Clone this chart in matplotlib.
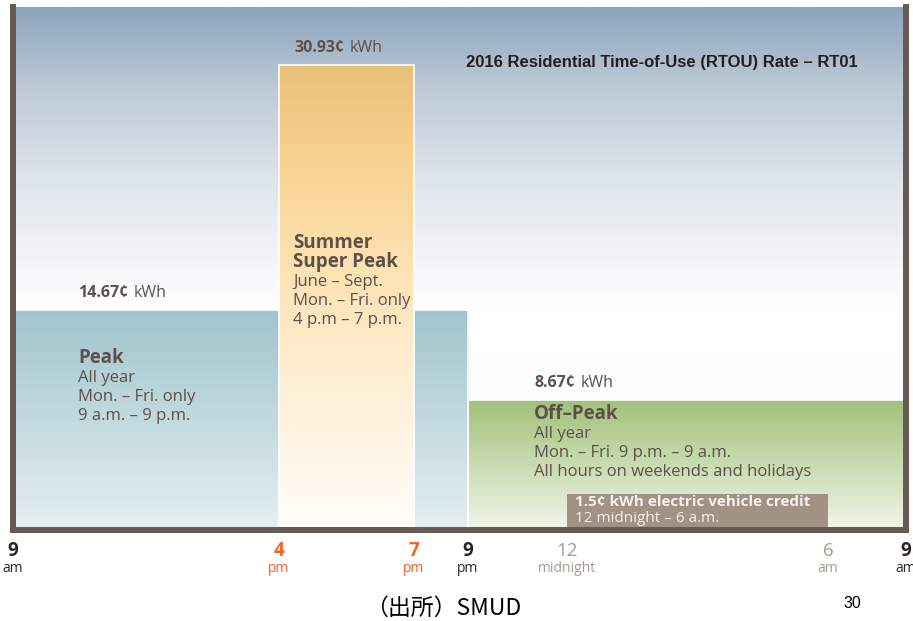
import numpy as np
import matplotlib
matplotlib.use("Agg")
import matplotlib.pyplot as plt
from matplotlib.colors import LinearSegmentedColormap
from matplotlib.patches import Rectangle
from matplotlib.offsetbox import TextArea, HPacker, AnnotationBbox

# rate periods (hours counted from midnight, next morning > 24), cents per kWh
period_names = ["Peak", "Summer\nSuper Peak", "Off\u2013Peak"]
period_start = [9, 16, 21]
period_end = [21, 19, 33]
period_rate = [14.67, 30.93, 8.67]
period_notes = [
    ["All year", "Mon. \u2013 Fri. only", "9 a.m. \u2013 9 p.m."],
    ["June \u2013 Sept.", "Mon. \u2013 Fri. only", "4 p.m \u2013 7 p.m."],
    ["All year", "Mon. \u2013 Fri. 9 p.m. \u2013 9 a.m.", "All hours on weekends and holidays"],
]

ev_start, ev_end = 24, 30
ev_credit = 1.5

tick_hours = [9, 16, 19, 21, 24, 30, 33]
tick_nums = ["9", "4", "7", "9", "12", "6", "9"]
tick_subs = ["am", "pm", "pm", "pm", "midnight", "am", "am"]

# schematic (not to scale) horizontal placement of the hour marks, pixels from left edge
mark_px = [0, 266, 401, 455, 554, 815, 893]

W, H = 913, 621
TXT = "#5c504b"
BORDER = "#675a55"
FONT = ["Open Sans", "DejaVu Sans"]


def fx(px):
    return px / W


def fy(py):
    return 1 - py / H


def fwd(h):
    return np.interp(h, tick_hours, mark_px)


def inv(p):
    return np.interp(p, mark_px, tick_hours)


def gradient(ax, patch, stops, top, z):
    cmap = LinearSegmentedColormap.from_list("g", stops)
    img = ax.imshow(np.linspace(0, 1, 256).reshape(-1, 1), cmap=cmap, origin="lower",
                    extent=[0, 1, 0, top], transform=ax.transAxes, aspect="auto",
                    interpolation="bilinear", zorder=z)
    img.set_clip_path(patch)


fig = plt.figure(figsize=(W / 100, H / 100), dpi=100)
fig.patch.set_facecolor("white")
ax = fig.add_axes([fx(13), fy(530), fx(893), (530 - 7) / H])
ax.set_xscale("function", functions=(fwd, inv))
ymax = 34.8

# sky background
bg = ax.patch
gradient(ax, bg, [(0, "#f8fafc"), (0.42, "#ffffff"), (0.66, "#e0e6ed"),
                  (0.85, "#bcc9d6"), (1, "#8ca4bd")], 1, 0.5)

fills = [
    [(0, "#e5eff2"), (1, "#a0c4cd")],
    [(0, "#fffdfa"), (0.3, "#fff0d8"), (0.6, "#fde0ad"), (0.82, "#f7d08e"), (1, "#e9c077")],
    [(0, "#f1f6ea"), (1, "#a2c079")],
]
zs = [2, 3, 2]
widths = [e - s for s, e in zip(period_start, period_end)]
for i in range(3):
    bar = ax.bar(period_start[i], period_rate[i], widths[i], align="edge",
                 facecolor="none", edgecolor="white", linewidth=1.2, zorder=zs[i] + 0.1)[0]
    gradient(ax, bar, fills[i], period_rate[i] / ymax, zs[i])

# price labels above each bar
label_dx = [65, 15, 66]
for i in range(3):
    parts = [TextArea(f"{period_rate[i]:.2f}\u00a2",
                      textprops=dict(fontsize=11.5, fontweight="bold", color=TXT, family=FONT)),
             TextArea("kWh", textprops=dict(fontsize=11.5, color=TXT, family=FONT))]
    box = HPacker(children=parts, pad=0, sep=4, align="baseline")
    ab = AnnotationBbox(box, (period_start[i], period_rate[i]), xybox=(label_dx[i], 17),
                        boxcoords="offset pixels", box_alignment=(0, 0.5), frameon=False,
                        zorder=6)
    ax.add_artist(ab)

# EV credit box
ax.add_patch(Rectangle((ev_start, 0), ev_end - ev_start, 0.068, transform=ax.get_xaxis_transform(),
                       facecolor="#a29284", edgecolor="none", zorder=5))
fig.text(fx(575), fy(502), f"{ev_credit}\u00a2 kWh electric vehicle credit", color="#f6f1ec",
         fontsize=11, fontweight="bold", family=FONT, va="center")
fig.text(fx(575), fy(519), "12 midnight \u2013 6 a.m.", color="#f6f1ec",
         fontsize=11, family=FONT, va="center")

# period descriptions
head_pos = [(78, 358), (293, 243), (534, 414)]
for i in range(3):
    x, y = head_pos[i]
    for j, line in enumerate(period_names[i].split("\n")):
        fig.text(fx(x), fy(y), line, color=TXT, fontsize=13.5, fontweight="bold",
                 family=FONT, va="center")
        y += 19
    y += 1
    for line in period_notes[i]:
        fig.text(fx(x), fy(y), line, color=TXT, fontsize=12, family=FONT, va="center")
        y += 19

fig.text(fx(466), fy(62), "2016 Residential Time-of-Use (RTOU) Rate \u2013 RT01", color="#231f1e",
         fontsize=12, fontweight="bold", family=["Liberation Sans", "DejaVu Sans"],
         va="center")

# hour marks under the chart
num_col = ["#2b2422", "#f0642a", "#f0642a", "#2b2422", "#a99b91", "#a99b91", "#2b2422"]
num_wt = ["bold", "bold", "bold", "bold", "normal", "normal", "bold"]
xa = ax.get_xaxis_transform()
for h, n, s, c, w in zip(tick_hours, tick_nums, tick_subs, num_col, num_wt):
    ax.annotate(n, (h, 0), xycoords=xa, xytext=(0, -21), textcoords="offset pixels",
                ha="center", va="center", fontsize=13.5, fontweight=w, color=c,
                family=FONT, annotation_clip=False)
    ax.annotate(s, (h, 0), xycoords=xa, xytext=(0, -39), textcoords="offset pixels",
                ha="center", va="center", fontsize=10, color=c, family=FONT,
                annotation_clip=False)

ax.set_xlim(9, 33)
ax.set_ylim(0, ymax)
ax.set_xticks([])
ax.set_yticks([])
ax.spines["top"].set_visible(False)
for side in ["left", "right", "bottom"]:
    ax.spines[side].set_color(BORDER)
    ax.spines[side].set_linewidth(4.3)
    ax.spines[side].set_zorder(7)

fig.text(fx(443), fy(608), "\uff08出所\uff09SMUD", fontsize=16.5,
         family=["Noto Sans CJK JP", "DejaVu Sans"], ha="center", va="center", color="black")
fig.text(fx(852), fy(604), "30", fontsize=11.5, family=["Liberation Sans", "DejaVu Sans"],
         ha="center", va="center", color="black")

fig.savefig("out.png", dpi=100)
